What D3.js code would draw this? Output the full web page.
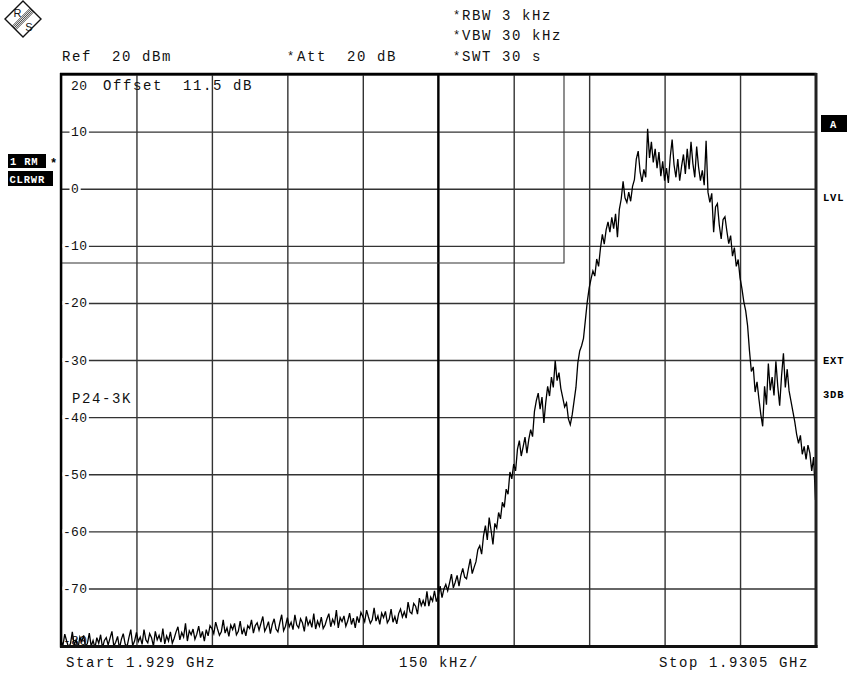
<!DOCTYPE html>
<html>
<head>
<meta charset="utf-8">
<script src="https://cdn.jsdelivr.net/npm/d3@7"></script>
<style>
  body { margin: 0; background: #fff; }
  svg { display: block; }
  .mono { font-family: "Liberation Mono", "Courier New", monospace; fill: #111; }
  .tag { font-family: "Liberation Mono", "Courier New", monospace; font-weight: bold; }
</style>
</head>
<body>
<svg id="chart" width="849" height="675"></svg>
<script>
// Sweep settings
const startMHz = 1929.0;
const stopMHz = 1930.5;
const freqDivisions = 10;
const levelTicks = [20, 10, 0, -10, -20, -30, -40, -50, -60, -70, -80];
const displayLineDbm = -13;      // horizontal display line
const frequencyLineMHz = 1930.0; // vertical frequency line

// Trace 1 (RMS detector, clear/write), 401 sweep points in dBm
const levels = [
  -79.1,-80.0,-78.0,-79.2,-80.3,-79.7,-77.6,-79.9,-79.0,-80.5,-78.5,-79.3,-78.2,-80.2,-79.6,-77.8,-80.1,-79.1,-80.4,-78.6,
  -79.6,-78.1,-80.4,-79.1,-78.6,-79.9,-78.7,-77.5,-80.1,-79.4,-78.4,-80.5,-78.9,-77.9,-79.7,-80.2,-78.6,-77.2,-80.0,-79.2,
  -77.7,-79.3,-78.5,-79.8,-77.2,-79.0,-79.5,-77.9,-78.6,-80.1,-77.5,-79.0,-78.2,-79.4,-77.0,-79.7,-78.3,-79.2,-77.6,-79.6,
  -78.7,-77.6,-76.7,-79.0,-77.7,-78.5,-76.1,-79.2,-77.4,-78.1,-77.1,-78.9,-78.0,-76.6,-78.6,-77.5,-79.2,-77.2,-78.3,-76.5,
  -77.0,-77.9,-75.9,-77.1,-78.2,-77.6,-75.5,-77.8,-76.9,-78.4,-76.4,-77.2,-76.1,-78.1,-77.5,-75.7,-78.0,-77.0,-78.3,-76.5,
  -77.0,-75.5,-77.8,-76.5,-76.0,-77.3,-76.1,-74.9,-77.5,-76.8,-75.8,-77.9,-76.3,-75.3,-77.1,-77.6,-76.0,-74.6,-77.4,-76.6,
  -75.1,-76.7,-75.9,-77.2,-74.6,-76.4,-76.9,-75.3,-76.0,-77.5,-74.9,-76.4,-75.6,-76.8,-74.4,-77.1,-75.7,-76.6,-75.0,-77.0,
  -76.4,-75.3,-74.4,-76.7,-75.4,-76.2,-73.8,-76.9,-75.1,-75.8,-74.8,-76.6,-75.7,-74.3,-76.3,-75.2,-76.9,-74.9,-76.0,-74.2,
  -74.9,-75.8,-73.8,-75.0,-76.1,-75.5,-73.4,-75.7,-74.8,-76.3,-74.3,-75.1,-74.0,-76.0,-75.4,-73.6,-75.9,-74.9,-76.2,-74.4,
  -73.6,-75.0,-74.1,-75.2,-72.4,-74.1,-74.4,-72.6,-73.1,-74.5,-71.7,-73.0,-72.1,-73.1,-70.5,-73.1,-71.5,-72.2,-70.4,-72.3,
  -71.3,-69.6,-71.6,-70.1,-69.3,-70.4,-69.0,-67.5,-69.9,-68.9,-67.7,-69.6,-67.7,-66.5,-68.0,-68.3,-66.5,-64.8,-67.4,-66.3,
  -65.3,-63.2,-62.5,-64.0,-60.8,-59.0,-61.5,-57.6,-59.8,-62.3,-58.6,-59.4,-56.7,-57.8,-54.9,-55.8,-52.6,-53.5,-49.6,-50.8,
  -48.2,-49.4,-45.6,-44.1,-46.8,-45.2,-43.5,-46.3,-43.9,-42.2,-43.4,-39.0,-37.1,-35.8,-38.6,-36.5,-41.0,-37.4,-34.6,-36.3,
  -33.0,-34.8,-30.1,-33.6,-32.2,-35.0,-36.6,-38.2,-37.5,-40.3,-41.3,-39.6,-37.2,-34.8,-30.5,-28.4,-27.5,-26.2,-23.0,-19.8,
  -17.4,-15.8,-14.4,-15.3,-12.3,-13.6,-10.4,-8.0,-9.7,-7.2,-5.8,-7.6,-5.0,-7.0,-4.4,-8.5,-3.6,-1.8,1.3,-1.6,
  -2.4,-0.6,-2.2,0.4,1.6,5.2,6.6,3.0,1.2,3.4,2.0,10.5,5.4,8.2,4.6,7.0,3.6,6.4,2.2,4.8,
  1.4,3.6,1.0,5.6,8.6,4.2,2.0,5.2,1.4,3.9,6.0,2.6,7.0,3.4,8.2,4.4,2.0,7.4,3.8,1.4,
  3.2,0.6,8.4,-0.6,-2.4,-0.8,-7.6,-3.2,-2.6,-6.4,-8.8,-5.4,-4.9,-7.4,-9.6,-8.2,-11.8,-10.3,-13.6,-12.4,
  -15.6,-17.5,-19.8,-21.4,-24.0,-28.4,-32.0,-31.2,-35.6,-33.8,-36.8,-39.5,-41.6,-34.6,-37.8,-30.6,-35.3,-33.0,-36.2,-30.2,
  -34.6,-38.0,-32.8,-28.8,-34.8,-31.6,-35.4,-37.2,-39.0,-40.8,-43.0,-44.6,-43.2,-46.5,-45.1,-47.4,-44.9,-46.3,-49.4,-47.0,
  -54.5
];

const svg = d3.select("#chart");
const plotLeft = 61, plotRight = 815.5, plotTop = 74.5, plotBottom = 645.6;

const x = d3.scaleLinear().domain([startMHz, stopMHz]).range([plotLeft, plotRight]);
const y = d3.scaleLinear().domain([-80, 20]).range([plotBottom, plotTop]);

const freqTicks = d3.range(freqDivisions + 1).map(i => startMHz + i * (stopMHz - startMHz) / freqDivisions);

// ---- Rohde & Schwarz logo ----
const logo = svg.append("g").attr("transform", "translate(23,19)");
const logoR = 18;
logo.append("polygon")
  .attr("points", [[0, -logoR], [logoR, 0], [0, logoR], [-logoR, 0]].map(p => p.join(",")).join(" "))
  .attr("fill", "#fff").attr("stroke", "#111").attr("stroke-width", 1.4);
const halfDiag = logoR / Math.SQRT2;
[-2.6, -1.3, 0, 1.3, 2.6].forEach(c => {
  const p1 = [(c - halfDiag) / Math.SQRT2, (c + halfDiag) / Math.SQRT2];
  const p2 = [(c + halfDiag) / Math.SQRT2, (c - halfDiag) / Math.SQRT2];
  logo.append("line")
    .attr("x1", p1[0]).attr("y1", p1[1]).attr("x2", p2[0]).attr("y2", p2[1])
    .attr("stroke", "#222").attr("stroke-width", 0.8);
});
logo.append("text").attr("x", -5.5).attr("y", -2.5).attr("text-anchor", "middle")
  .attr("font-family", "Liberation Sans, Arial, sans-serif").attr("font-size", 11).attr("fill", "#111").text("R");
logo.append("text").attr("x", 6).attr("y", 12).attr("text-anchor", "middle")
  .attr("font-family", "Liberation Sans, Arial, sans-serif").attr("font-size", 11).attr("fill", "#111").text("S");

// ---- header settings ----
function mono(xp, yp, str, size = 14, ls = 1.6) {
  return svg.append("text").attr("class", "mono")
    .attr("x", xp).attr("y", yp)
    .attr("font-size", size).attr("letter-spacing", ls)
    .attr("xml:space", "preserve").style("white-space", "pre")
    .text(str);
}
mono(453, 19, "*", 12, 0);
mono(462, 20, "RBW 3 kHz");
mono(453, 39, "*", 12, 0);
mono(462, 40, "VBW 30 kHz");
mono(453, 60, "*", 12, 0);
mono(462, 61, "SWT 30 s");
mono(62, 61, "Ref  20 dBm");
mono(287, 60, "*", 12, 0);
mono(297, 61, "Att  20 dB");

// ---- grid through axes ----
const gridG = svg.append("g");
const yGrid = d3.axisLeft(y).tickValues(levelTicks).tickSize(-(plotRight - plotLeft)).tickFormat("");
gridG.append("g").attr("transform", `translate(${plotLeft},0)`).call(yGrid)
  .call(g => g.select(".domain").remove())
  .call(g => g.selectAll("line").attr("stroke", "#333").attr("stroke-width", 1.4));
const xGrid = d3.axisBottom(x).tickValues(freqTicks).tickSize(-(plotBottom - plotTop)).tickFormat("");
gridG.append("g").attr("transform", `translate(0,${plotBottom})`).call(xGrid)
  .call(g => g.select(".domain").remove())
  .call(g => g.selectAll("line").attr("stroke", "#333").attr("stroke-width", 1.4));

// centre frequency line is heavier
const centreMHz = (startMHz + stopMHz) / 2;
svg.append("line")
  .attr("x1", x(centreMHz)).attr("x2", x(centreMHz)).attr("y1", plotTop).attr("y2", plotBottom)
  .attr("stroke", "#000").attr("stroke-width", 2.2);

// ---- display line and frequency line ----
svg.append("path")
  .attr("d", `M${plotLeft},${y(displayLineDbm)}H${x(frequencyLineMHz)}V${plotTop}`)
  .attr("fill", "none").attr("stroke", "#333").attr("stroke-width", 1.1);

// ---- level labels on the grid ----
const labelG = svg.append("g");
levelTicks.forEach(v => {
  let yy = y(v) + 4.5;
  if (v === 20) yy = 90;
  if (v === -80) yy = y(v) - 1;
  const digits = String(Math.abs(v));
  const t = labelG.append("text").attr("class", "mono")
    .attr("x", 71).attr("y", yy).attr("font-size", 13).attr("letter-spacing", 0.4)
    .text(digits);
  const items = [t];
  if (v < 0) {
    items.push(labelG.append("text").attr("class", "mono")
      .attr("x", 63).attr("y", yy).attr("font-size", 13).text("-"));
  }
  if (v !== 20 && v !== -80) {
    items.forEach(it => {
      const b = it.node().getBBox();
      labelG.insert("rect", "text")
        .attr("x", b.x - 1.5).attr("y", y(v) - 2)
        .attr("width", b.width + 3).attr("height", 4)
        .attr("fill", "#fff");
    });
  }
});

mono(103, 90, "Offset  11.5 dB");
mono(72, 403, "P24-3K");

// ---- trace ----
svg.append("clipPath").attr("id", "plotClip")
  .append("rect").attr("x", plotLeft).attr("y", plotTop)
  .attr("width", plotRight - plotLeft).attr("height", plotBottom - plotTop);
const step = (stopMHz - startMHz) / (levels.length - 1);
const traceLine = d3.line().x((d, i) => x(startMHz + i * step)).y(d => y(d));
svg.append("path")
  .datum(levels)
  .attr("clip-path", "url(#plotClip)")
  .attr("d", traceLine)
  .attr("fill", "none").attr("stroke", "#000").attr("stroke-width", 1.3)
  .attr("stroke-linejoin", "miter");

// ---- frame ----
svg.append("line").attr("x1", plotLeft - 1).attr("x2", plotRight + 1).attr("y1", plotTop - 0.5).attr("y2", plotTop - 0.5)
  .attr("stroke", "#000").attr("stroke-width", 2.4);
svg.append("line").attr("x1", plotLeft).attr("x2", plotLeft).attr("y1", plotTop - 1.5).attr("y2", plotBottom + 2)
  .attr("stroke", "#000").attr("stroke-width", 2.4);
svg.append("line").attr("x1", plotRight + 0.5).attr("x2", plotRight + 0.5).attr("y1", plotTop - 1.5).attr("y2", plotBottom + 2.5)
  .attr("stroke", "#222").attr("stroke-width", 3);
svg.append("line").attr("x1", plotLeft - 1).attr("x2", plotRight + 2).attr("y1", plotBottom + 1).attr("y2", plotBottom + 1)
  .attr("stroke", "#111").attr("stroke-width", 3);

// ---- footer ----
mono(66, 667, "Start 1.929 GHz");
mono(399, 667, "150 kHz/");
mono(659, 667, "Stop 1.9305 GHz");

// ---- trace and status tags ----
function tagBox(bx, by, bw, bh, str, tx, ty) {
  svg.append("rect").attr("x", bx).attr("y", by).attr("width", bw).attr("height", bh).attr("fill", "#000");
  svg.append("text").attr("class", "tag").attr("x", tx).attr("y", ty)
    .attr("font-size", 10.5).attr("letter-spacing", 0.8).attr("fill", "#fff")
    .attr("xml:space", "preserve").style("white-space", "pre").text(str);
}
tagBox(8, 154, 38, 14, "1 RM", 10, 165);
svg.append("text").attr("class", "tag").attr("x", 50).attr("y", 167).attr("font-size", 12).attr("fill", "#000").text("*");
tagBox(8, 171, 45, 15, "CLRWR", 9.5, 182.5);
tagBox(821, 115, 26, 17, "A", 830, 127.5);

[["LVL", 201], ["EXT", 364], ["3DB", 398]].forEach(([s, yy]) => {
  svg.append("text").attr("class", "tag").attr("x", 823).attr("y", yy)
    .attr("font-size", 10.5).attr("letter-spacing", 0.8).attr("fill", "#000").text(s);
});
</script>
</body>
</html>
